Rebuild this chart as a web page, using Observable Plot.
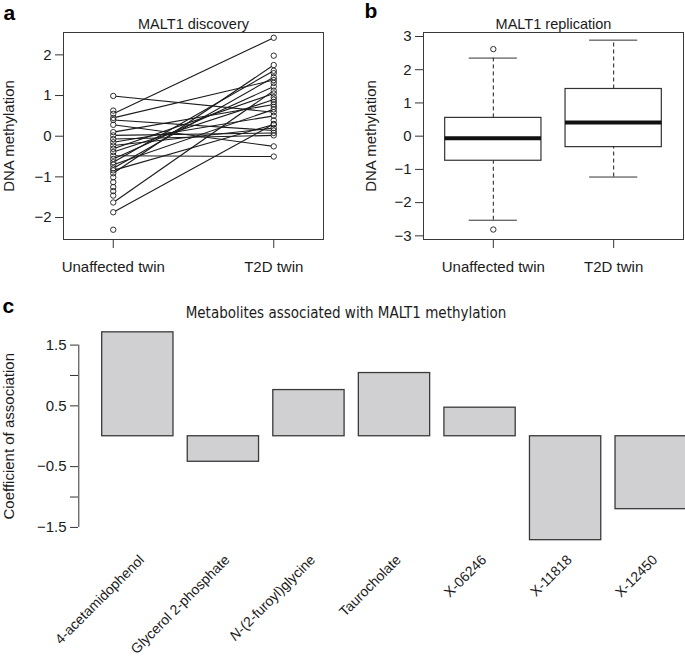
<!DOCTYPE html>
<html>
<head>
<meta charset="utf-8">
<script src="https://cdn.jsdelivr.net/npm/d3@7"></script>
<script src="https://cdn.jsdelivr.net/npm/@observablehq/plot@0.6"></script>
<style>
  html, body { margin: 0; padding: 0; background: #fff; overflow: hidden; }
  #wrap { position: relative; width: 685px; height: 665px; overflow: hidden; background: #fff; }
  #wrap svg { position: absolute; overflow: visible; max-width: none; }
</style>
</head>
<body>
<div id="wrap"></div>
<script>
// ---------- Panel a: MALT1 discovery (paired twins) ----------
const groups = ["Unaffected twin", "T2D twin"];
const pairUnaffected = [0.99, 0.55, 0.45, 0.40, 0.28, 0.10, 0.02, -0.07, -0.15, -0.23, -0.31, -0.39, -0.48, -0.56, -0.64, -0.70, -0.79, -0.84, -0.91, -1.63, -1.87];
const pairT2D        = [0.59, 2.42, 1.38, 0.14, -0.25, 0.78, 0.08, 0.02, 0.50, 0.20, 1.05, 0.90, -0.50, 1.22, 1.61, 0.66, 1.45, 0.29, 1.75, 1.12, 0.30];
const extraUnaffected = [0.63, -1.01, -1.13, -1.25, -1.35, -1.46, -2.30];
const extraT2D        = [1.98, 1.55, 1.31, 0.96, 0.84, 0.72, 0.39];
const yTicksA = [-2, -1, 0, 1, 2];

// ---------- Panel b: MALT1 replication (box plot summaries) ----------
const whiskerLow  = [-2.53, -1.23];
const quartile1   = [-0.74, -0.33];
const medians     = [-0.06, 0.41];
const quartile3   = [0.55, 1.42];
const whiskerHigh = [2.35, 2.89];
const outlierGroup  = [1, 1];
const outlierValues = [2.62, -2.81];
const yTicksB = [-3, -2, -1, 0, 1, 2, 3];

// ---------- Panel c: metabolites ----------
const metabolites  = ["4-acetamidophenol", "Glycerol 2-phosphate", "N-(2-furoyl)glycine", "Taurocholate", "X-06246", "X-11818", "X-12450"];
const coefficients = [1.71, -0.42, 0.76, 1.04, 0.47, -1.71, -1.20];
const yTicksC   = [-1.5, -1, -0.5, 0.5, 1, 1.5];
const yLabelsC  = [-1.5, -0.5, 0.5, 1.5];

// ---------- style ----------
const ink = "#1b1b1b";
const font = '"Liberation Sans", Arial, Helvetica, sans-serif';
const minus = d => (d < 0 ? "\u2212" + Math.abs(d) : String(d));
const wrap = document.getElementById("wrap");
function place(svg, left, top) {
  svg.style.left = left + "px";
  svg.style.top = top + "px";
  wrap.appendChild(svg);
}
const baseStyle = {fontFamily: font, fontSize: "15px", color: ink, background: "transparent", overflow: "visible"};

// ---------- build panel a ----------
const linesA = pairUnaffected.map((u, i) => ({u, t: pairT2D[i]}));
const ptsA = [...pairUnaffected, ...extraUnaffected].map(v => ({g: 1, v}))
  .concat([...pairT2D, ...extraT2D].map(v => ({g: 2, v})));

const plotA = Plot.plot({
  width: 342, height: 300,
  marginTop: 32, marginLeft: 63, marginRight: 19, marginBottom: 61,
  style: baseStyle,
  x: {domain: [0.69, 2.31]},
  y: {domain: [-2.54, 2.55]},
  marks: [
    Plot.axisY({ticks: yTicksA, tickSize: 8, tickPadding: 4, tickFormat: minus, label: null, stroke: "#333"}),
    Plot.axisX({ticks: [1, 2], tickSize: 9, tickPadding: 13, tickFormat: d => groups[d - 1], label: null, stroke: "#333"}),
    Plot.link(linesA, {x1: () => 1, x2: () => 2, y1: "u", y2: "t", stroke: ink, strokeWidth: 1.1}),
    Plot.dot(ptsA, {x: "g", y: "v", r: 2.7, fill: "white", stroke: "none"}),
    Plot.dot(ptsA, {x: "g", y: "v", r: 2.7, fill: "none", stroke: ink, strokeWidth: 0.9}),
    Plot.frame({stroke: "#3a3a3a", strokeWidth: 1}),
    Plot.text(["MALT1 discovery"], {text: d => d, frameAnchor: "top", dy: -14, fontSize: 14.5, fill: ink}),
    Plot.text(["DNA methylation"], {text: d => d, frameAnchor: "left", textAnchor: "middle", dx: -54, rotate: -90, fill: ink}),
    Plot.text(["a"], {text: d => d, frameAnchor: "top-left", dx: -60, dy: -27, fontSize: 21, fontWeight: "bold", fill: "#000"})
  ]
});
place(plotA, 0, 0);

// ---------- build panel b ----------
const boxes = groups.map((g, i) => ({
  i: i + 1, lo: whiskerLow[i], q1: quartile1[i], med: medians[i], q3: quartile3[i], hi: whiskerHigh[i]
}));
const outliers = outlierValues.map((v, k) => ({i: outlierGroup[k], v}));
const boxHalf = 0.4, capHalf = 0.2;

const plotB = Plot.plot({
  width: 343, height: 300,
  marginTop: 32, marginLeft: 81, marginRight: 2, marginBottom: 61,
  style: baseStyle,
  x: {domain: [0.42, 2.58]},
  y: {domain: [-3.11, 3.12]},
  marks: [
    Plot.axisY({ticks: yTicksB, tickSize: 8, tickPadding: 4, tickFormat: minus, label: null, stroke: "#333"}),
    Plot.axisX({ticks: [1, 2], tickSize: 9, tickPadding: 13, tickFormat: d => groups[d - 1], label: null, stroke: "#333"}),
    Plot.ruleX(boxes, {x: "i", y1: "q3", y2: "hi", stroke: ink, strokeDasharray: "4,3"}),
    Plot.ruleX(boxes, {x: "i", y1: "lo", y2: "q1", stroke: ink, strokeDasharray: "4,3"}),
    Plot.ruleY(boxes, {y: "hi", x1: d => d.i - capHalf, x2: d => d.i + capHalf, stroke: "#333"}),
    Plot.ruleY(boxes, {y: "lo", x1: d => d.i - capHalf, x2: d => d.i + capHalf, stroke: "#333"}),
    Plot.rect(boxes, {x1: d => d.i - boxHalf, x2: d => d.i + boxHalf, y1: "q1", y2: "q3", fill: "white", stroke: "#333", strokeWidth: 1.2}),
    Plot.ruleY(boxes, {y: "med", x1: d => d.i - boxHalf, x2: d => d.i + boxHalf, stroke: "#111", strokeWidth: 4}),
    Plot.dot(outliers, {x: "i", y: "v", r: 2.7, fill: "none", stroke: ink, strokeWidth: 0.9}),
    Plot.frame({stroke: "#3a3a3a", strokeWidth: 1}),
    Plot.text(["MALT1 replication"], {text: d => d, frameAnchor: "top", dy: -14, fontSize: 14.5, fill: ink}),
    Plot.text(["DNA methylation"], {text: d => d, frameAnchor: "left", textAnchor: "middle", dx: -52, rotate: -90, fill: ink}),
    Plot.text(["b"], {text: d => d, frameAnchor: "top-left", dx: -59, dy: -29, fontSize: 21, fontWeight: "bold", fill: "#000"})
  ]
});
place(plotB, 342, 0);

// ---------- build panel c ----------
// R barplot layout: width 1, space 0.2
const bars = metabolites.map((name, i) => ({
  name, v: coefficients[i], x1: 0.2 + 1.2 * i, x2: 1.2 + 1.2 * i, c: 0.7 + 1.2 * i
}));
const xDomC = [-0.128, 8.728];
const yDomC = [-1.847, 1.847];

const plotC = Plot.plot({
  width: 685, height: 365,
  marginTop: 23.5, marginLeft: 78, marginRight: 0, marginBottom: 117,
  style: baseStyle,
  x: {domain: xDomC, range: [78.3, 709.7], axis: null},
  y: {domain: yDomC},
  marks: [
    Plot.ruleX([xDomC[0]], {x: d => d, y1: () => d3.min(yTicksC), y2: () => d3.max(yTicksC), stroke: "#333"}),
    Plot.axisY({ticks: yTicksC, tickSize: 8, tickPadding: 4, tickFormat: d => (yLabelsC.includes(d) ? minus(d) : ""), label: null, stroke: "#333"}),
    Plot.rect(bars, {x1: "x1", x2: "x2", y1: () => 0, y2: "v", fill: "#d0d0d2", stroke: "#3a3a3a", strokeWidth: 1.3}),
    Plot.text(bars, {x: "c", y: () => yDomC[0], text: "name", rotate: -45, textAnchor: "end", dx: 4, dy: 9, fontSize: 14, fill: ink}),
    Plot.text(["Metabolites associated with MALT1 methylation"], {text: d => d, frameAnchor: "top", dx: -36, dy: -17, fontSize: 15, fill: ink, fontFamily: '"Liberation Sans Narrow", "DejaVu Sans Condensed", "Liberation Sans", sans-serif'}),
    Plot.text(["Coefficient of association"], {text: d => d, frameAnchor: "left", textAnchor: "middle", dx: -69, rotate: -90, fill: ink}),
    Plot.text(["c"], {text: d => d, frameAnchor: "top-left", dx: -76, dy: -26, fontSize: 21, fontWeight: "bold", fill: "#000"})
  ]
});
// chemical prefix "N" in italics
d3.select(plotC).selectAll("text").each(function () {
  const t = this.textContent;
  if (t === metabolites[2]) {
    const el = d3.select(this);
    el.text(null);
    el.append("tspan").attr("font-style", "italic").text(t.slice(0, 1));
    el.append("tspan").text(t.slice(1));
  }
});
place(plotC, 0, 300);
</script>
</body>
</html>
